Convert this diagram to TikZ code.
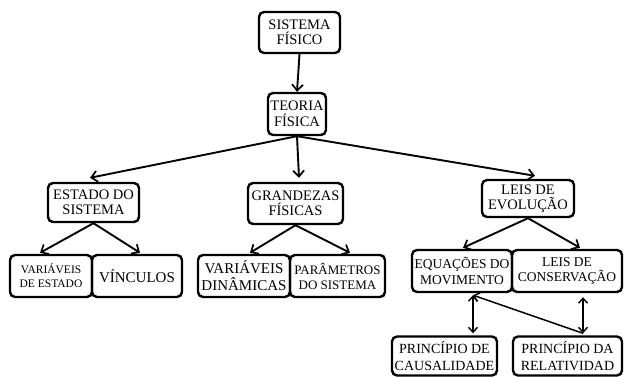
\documentclass[tikz,border=0pt]{standalone}
\usepackage{fontspec}
\setmainfont{Liberation Serif}
\usetikzlibrary{arrows.meta}
\tikzset{
  box/.style={draw, line width=2.4pt, rounded corners=5pt, align=center, inner sep=1pt,
    font=\fontsize{14.5}{15.5}\selectfont},
  conn/.style={line width=1.9pt, -{Straight Barb[length=6pt,width=11pt,line width=1.7pt]}},
  dconn/.style={line width=1.5pt, {Straight Barb[length=5pt,width=9pt,line width=1.4pt]}-{Straight Barb[length=5pt,width=9pt,line width=1.4pt]}},
  lconn/.style={line width=1.5pt, -{Straight Barb[length=5pt,width=9pt,line width=1.4pt]}}
}
\begin{document}
\begin{tikzpicture}[x=1pt,y=-1pt]
\useasboundingbox (0,0) rectangle (624,377);
\node[box, minimum width=81pt, minimum height=41pt] (SF) at (299.5,32.5) {SISTEMA\\FÍSICO};
\node[box, minimum width=58pt, minimum height=42pt] (TF) at (297,114) {TEORIA\\FÍSICA};
\node[box, minimum width=91pt, minimum height=39pt] (ES) at (93.5,202.5) {ESTADO DO\\SISTEMA};
\node[box, minimum width=95pt, minimum height=41pt] (GF) at (295.5,203.5) {GRANDEZAS\\FÍSICAS};
\node[box, minimum width=92pt, minimum height=37pt] (LE) at (528,198.5) {LEIS DE\\EVOLUÇÃO};
\node[box, minimum width=82pt, minimum height=42pt, font=\fontsize{11.5}{14}\selectfont] (VE) at (51,276) {VARIÁVEIS\\DE ESTADO};
\node[box, minimum width=90pt, minimum height=42pt, font=\fontsize{15}{17}\selectfont] (VI) at (137,276) {VÍNCULOS};
\node[box, minimum width=92pt, minimum height=42pt, font=\fontsize{15}{17}\selectfont] (VD) at (244,276) {VARIÁVEIS\\DINÂMICAS};
\node[box, minimum width=95pt, minimum height=42pt, font=\fontsize{13}{15}\selectfont] (PS) at (337.5,276) {PARÂMETROS\\DO SISTEMA};
\node[box, minimum width=100pt, minimum height=42pt, font=\fontsize{13.5}{15.5}\selectfont] (EM) at (462,271) {EQUAÇÕES DO\\MOVIMENTO};
\node[box, minimum width=110pt, minimum height=42pt, font=\fontsize{13.5}{15.5}\selectfont] (LC) at (567,271) {LEIS DE\\CONSERVAÇÃO};
\node[box, minimum width=105pt, minimum height=39pt, font=\fontsize{14}{17}\selectfont] (PC) at (444.5,356) {PRINCÍPIO DE\\CAUSALIDADE};
\node[box, minimum width=109pt, minimum height=39pt, font=\fontsize{14}{17}\selectfont] (PR) at (567.5,356) {PRINCÍPIO DA\\RELATIVIDAD};
% connectors
\draw[conn] (SF.south) -- (TF.north);
\draw[conn] (TF.south) -- ([xshift=-3.5pt,yshift=4pt]ES.north);
\draw[conn] (TF.south) -- ([xshift=3.5pt,yshift=4pt]GF.north);
\draw[conn] (TF.south) -- ([xshift=7pt,yshift=3pt]LE.north);
\draw[conn] (ES.south) -- ([xshift=-11pt,yshift=1pt]VE.north);
\draw[conn] (ES.south) -- ([xshift=3pt,yshift=1pt]VI.north);
\draw[conn] (GF.south) -- ([xshift=6pt,yshift=1pt]VD.north);
\draw[conn] (GF.south) -- ([xshift=12.5pt,yshift=1pt]PS.north);
\draw[conn] (LE.south) -- ([xshift=1pt,yshift=1pt]EM.north);
\draw[conn] (LE.south) -- ([xshift=13pt,yshift=1pt]LC.north);
\draw[dconn] ([xshift=11pt,yshift=-2pt]EM.south) -- ([xshift=28.5pt,yshift=2pt]PC.north);
\draw[dconn] ([xshift=16pt,yshift=-4pt]LC.south) -- ([xshift=15.5pt,yshift=2pt]PR.north);
\draw[lconn] ([xshift=15.5pt,yshift=2pt]PR.north) -- ([xshift=11pt,yshift=-2pt]EM.south);
\end{tikzpicture}
\end{document}
